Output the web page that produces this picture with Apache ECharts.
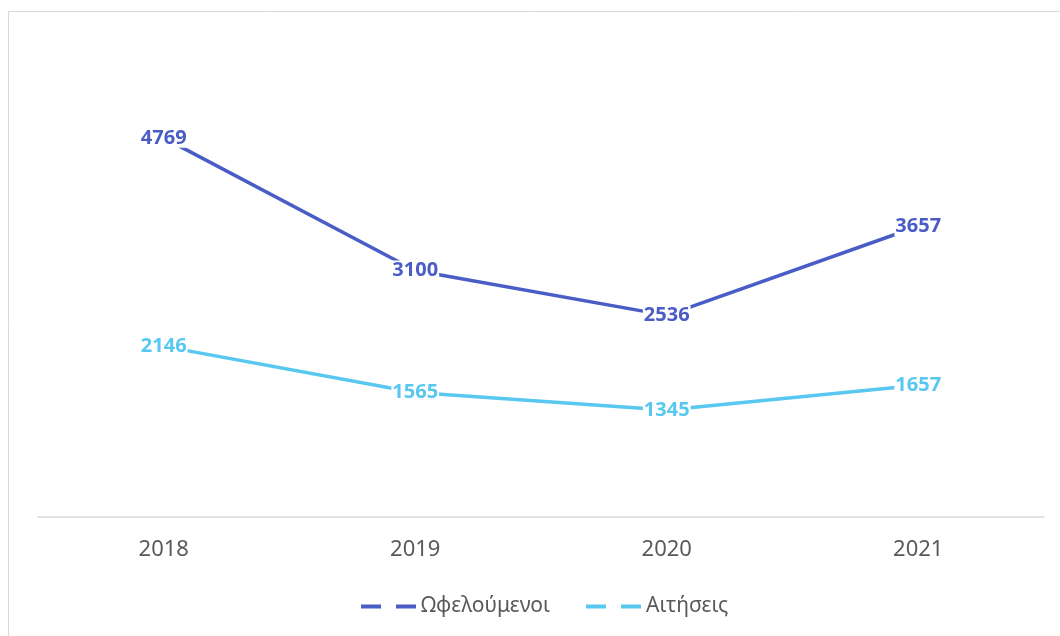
<!DOCTYPE html>
<html>
<head>
<meta charset="utf-8">
<script src="https://cdn.jsdelivr.net/npm/echarts@6/dist/echarts.min.js"></script>
<style>html,body{margin:0;padding:0;background:#fff}#c{width:1060px;height:636px}</style>
</head>
<body>
<div id="c"></div>
<script>
const categories = ['2018', '2019', '2020', '2021'];
const beneficiaries = [4769, 3100, 2536, 3657];
const applications = [2146, 1565, 1345, 1657];
const seriesNames = ['Ωφελούμενοι', 'Αιτήσεις'];
const colors = ['#4A5DC6', '#58C8F0'];

const chart = echarts.init(document.getElementById('c'));
const dashIcon = 'path://M0,0h20v4h-20z M35,0h20v4h-20z';
function mkSeries(name, data, color) {
  return {
    name: name, type: 'line', data: data,
    showSymbol: true, symbol: 'circle', symbolSize: 0.01,
    lineStyle: { color: color, width: 3.5 },
    itemStyle: { color: color },
    label: {
      show: true, position: 'inside', color: color,
      fontFamily: 'Noto Sans', fontWeight: 'bold', fontSize: 20,
      backgroundColor: '#fff', padding: [0, 1]
    },
    emphasis: { disabled: true }
  };
}
chart.setOption({
  animation: false,
  backgroundColor: '#fff',
  graphic: [{
    type: 'rect', z: -10,
    shape: { x: 8.5, y: 11.5, width: 1100, height: 700 },
    style: { fill: 'none', stroke: '#D9D9D9', lineWidth: 1 }
  }],
  grid: { left: 38, right: 16, top: 40, bottom: 119 },
  legend: {
    bottom: 14, left: 356, itemGap: 36, itemWidth: 55, itemHeight: 4,
    icon: dashIcon,
    textStyle: { fontFamily: 'Noto Sans', fontSize: 21, color: '#595959', padding: [0, 0, 0, 0] },
    data: seriesNames
  },
  xAxis: {
    type: 'category', data: categories, boundaryGap: true,
    axisLine: { lineStyle: { color: '#D9D9D9', width: 1.5 } },
    axisTick: { show: false },
    axisLabel: { fontFamily: 'Noto Sans', fontSize: 22, color: '#595959', margin: 22 }
  },
  yAxis: {
    type: 'value', min: 0, max: 6000, interval: 1000,
    axisLine: { show: false }, axisTick: { show: false },
    axisLabel: { show: false }, splitLine: { show: false }
  },
  series: [
    mkSeries(seriesNames[0], beneficiaries, colors[0]),
    mkSeries(seriesNames[1], applications, colors[1])
  ]
});
</script>
</body>
</html>
